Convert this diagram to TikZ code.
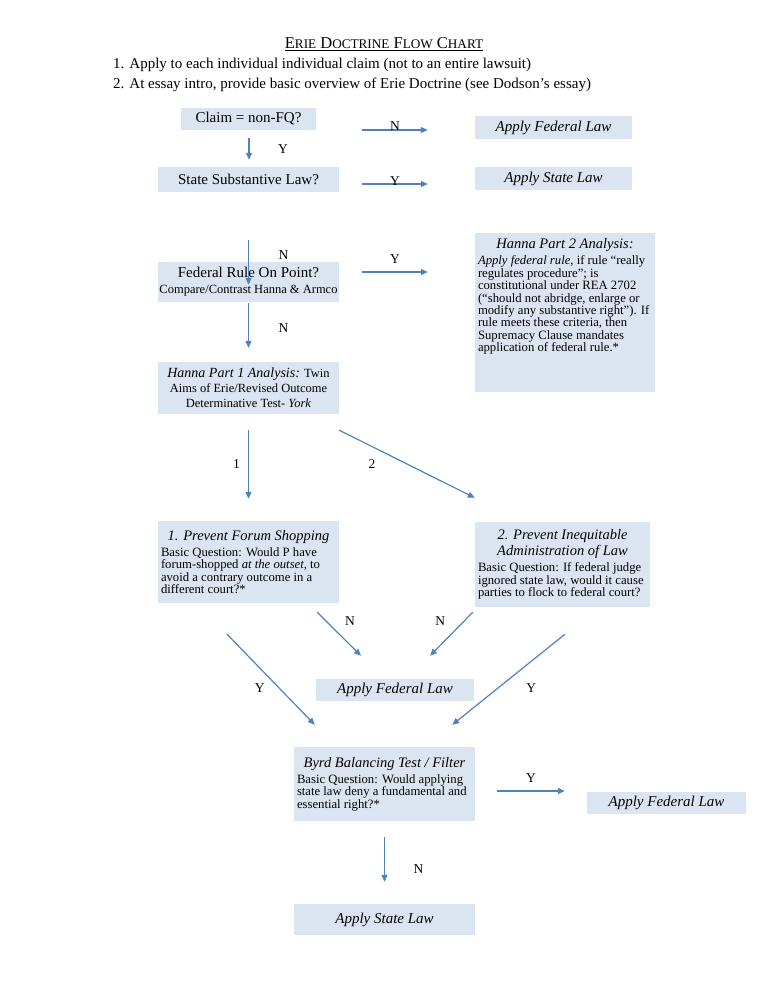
\documentclass[tikz,border=0pt]{standalone}
\usepackage{fontspec}
\setmainfont{Liberation Serif}
\usepackage{xcolor}
\usetikzlibrary{calc}
\usetikzlibrary{arrows.meta}
\definecolor{boxblue}{HTML}{DBE5F1}
\definecolor{flowblue}{HTML}{4F81BD}
\tikzstyle{lawbox} = [fill=boxblue, inner sep=0pt, align=center,
font=\fontsize{15}{17}\selectfont]
\tikzstyle{askbox} = [fill=boxblue, inner xsep=3pt, inner ysep=0pt, align=flush left,
font=\fontsize{12.7}{12.4}\selectfont]
\tikzstyle{flow} = [draw=flowblue, line width=1.2pt, -{Triangle[length=7pt,width=6pt]}]
\tikzstyle{tag} = [font=\fontsize{13.5}{15}\selectfont, inner sep=0pt]
\newcommand{\boxhead}[1]{{\centering\fontsize{14.5}{16}\selectfont\itshape #1\par}\vspace{4pt}}
\newcommand{\padline}[1]{\par\leavevmode\rule{0pt}{#1}}
\newcommand{\smallcap}[1]{{\fontsize{13.2}{15}\selectfont #1}}

\begin{document}
\begin{tikzpicture}[x=1pt, y=-1pt]
        \useasboundingbox (0,0) rectangle (768,994);
        % heading and notes
        \node[font=\fontsize{16.5}{18}\selectfont] (title) at (384,44)
            {\underline{E\smallcap{RIE} D\smallcap{OCTRINE} F\smallcap{LOW} C\smallcap{HART}}};
        \node[anchor=north west, align=left, inner sep=0pt, font=\fontsize{15}{20}\selectfont] (notes) at (113,58)
            {1. Apply to each individual individual claim (not to an entire lawsuit)\\
             2. At essay intro, provide basic overview of Erie Doctrine (see Dodson's essay)};
        % first questions
        \node[lawbox, minimum width=135pt, minimum height=22pt] (claim) at (248.5,119) {Claim = non-FQ?};
        \node[lawbox, minimum width=181pt, minimum height=25pt] (substantive) at (248.5,179.5) {State Substantive Law?};
        \node[lawbox, minimum width=157pt, minimum height=23pt] (federal1) at (553.5,127.5) {\textit{Apply Federal Law}};
        \node[lawbox, minimum width=157pt, minimum height=23pt] (state1) at (553.5,178.5) {\textit{Apply State Law}};
        \node[lawbox, minimum width=181pt, minimum height=40pt] (fedrule) at (248.5,282)
            {Federal Rule On Point?\\[-1pt]{\fontsize{12.5}{13}\selectfont Compare/Contrast Hanna \& Armco}};
        \node[askbox, text width=174pt, minimum height=159pt] (hanna2) at (565,312.5) {%
            \boxhead{Hanna Part 2 Analysis:}
            \textit{Apply federal rule}, if rule “really\\
            regulates procedure”; is\\
            constitutional under REA 2702\\
            (“should not abridge, enlarge or\\
            modify any substantive right”). If\\
            rule meets these criteria, then\\
            Supremacy Clause mandates\\
            application of federal rule.*\padline{31pt}};
        \node[lawbox, minimum width=181pt, minimum height=52pt, font=\fontsize{12.5}{15}\selectfont] (hanna1) at (248.5,388)
            {{\fontsize{14}{15}\selectfont\textit{Hanna Part 1 Analysis:}} Twin\\
             Aims of Erie/Revised Outcome\\
             Determinative Test- \textit{York}};
        % twin aims
        \node[askbox, text width=175pt, minimum height=82pt] (forum) at (248.5,562) {%
            \boxhead{1. Prevent Forum Shopping}
            Basic Question: Would P have\\
            forum-shopped \textit{at the outset}, to\\
            avoid a contrary outcome in a\\
            different court?*};
        \node[askbox, text width=169pt, minimum height=85pt] (inequit) at (562.5,564.5) {%
            \boxhead{2. Prevent Inequitable\\ Administration of Law}
            Basic Question: If federal judge\\
            ignored state law, would it cause\\
            parties to flock to federal court?};
        \node[lawbox, minimum width=158pt, minimum height=22pt] (federal2) at (395,690) {\textit{Apply Federal Law}};
        % byrd
        \node[askbox, text width=175pt, minimum height=74pt] (byrd) at (384.5,784) {%
            \boxhead{Byrd Balancing Test / Filter}
            Basic Question: Would applying\\
            state law deny a fundamental and\\
            essential right?*};
        \node[lawbox, minimum width=159pt, minimum height=22pt] (federal3) at (666.5,803) {\textit{Apply Federal Law}};
        \node[lawbox, minimum width=181pt, minimum height=31pt] (state2) at (384.5,919.5) {\textit{Apply State Law}};
        % connectors
        \draw[flow] ($(claim.east)+(46,11)$) -- node[tag, yshift=4pt] {N} ($(federal1.west)+(-47,2.5)$);
        \draw[flow] ($(substantive.east)+(23,4.5)$) -- node[tag, yshift=3pt] {Y} ($(state1.west)+(-47,5.5)$);
        \draw[flow] ($(claim.south)+(0.5,8)$) -- node[tag, xshift=34pt] {Y} ($(substantive.north)+(0.5,-7)$);
        \draw[flow] ($(substantive.south)+(0,48)$) -- node[tag, pos=0.33, xshift=35pt] {N} ($(fedrule.north)+(0,23)$);
        \draw[flow] ($(fedrule.east)+(23,-10)$) -- node[tag, yshift=13pt] {Y} ($(hanna2.west)+(-47,-40.5)$);
        \draw[flow] ($(fedrule.south)+(0,1)$) -- node[tag, pos=0.55, xshift=35pt] {N} ($(hanna1.north)+(0,-14)$);
        \draw[flow] ($(hanna1.south)+(0,16)$) -- node[tag, xshift=-12pt] {1} ($(forum.north)+(0,-22)$);
        \draw[flow] ($(hanna1.south east)+(0,16)$) -- node[tag, xshift=-35pt] {2} ($(inequit.north west)+(0,-24)$);
        \draw[flow] ($(forum.south east)+(-22,9)$) -- node[tag, pos=0.2, xshift=24pt] {N} ($(federal2.north)+(-34,-23)$);
        \draw[flow] ($(inequit.south west)+(-2,5)$) -- node[tag, pos=0.2, xshift=-24pt] {N} ($(federal2.north)+(35,-23)$);
        \draw[flow] ($(forum.south)+(-21.5,31)$) -- node[tag, pos=0.6, xshift=-20pt] {Y} ($(byrd.north west)+(21,-22)$);
        \draw[flow] ($(inequit.south)+(2.5,27)$) -- node[tag, pos=0.6, xshift=34pt] {Y} ($(byrd.north east)+(-23,-22)$);
        \draw[flow] ($(byrd.east)+(22,7)$) -- node[tag, yshift=13pt] {Y} ($(federal3.west)+(-22,-12)$);
        \draw[flow] ($(byrd.south)+(0,16)$) -- node[tag, pos=0.71, xshift=34pt] {N} ($(state2.north)+(0,-22)$);
    \end{tikzpicture}
\end{document}
